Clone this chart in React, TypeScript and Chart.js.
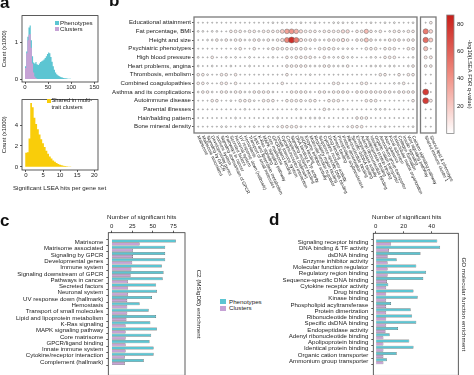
import React, { useEffect, useRef } from 'react';
import { Chart, registerables } from 'chart.js';

Chart.register(...registerables);

const FONT = "'Liberation Sans', Arial, Helvetica, sans-serif";
const TXT = '#222222';
const TICK = '#333333';
const CYAN = '#5cc5d2';
const PURPLE = '#c6a2d5';
const YELLOW = '#f9cd0a';
Chart.defaults.font.family = FONT;
Chart.defaults.color = TXT;

// ---------------- Panel a: histograms ----------------
const topBinStarts = [0, 2.5, 5, 7.5, 10, 12.5, 15, 17.5, 20, 22.5, 25, 27.5, 30, 32.5, 35, 37.5, 40, 42.5, 45, 47.5,
  50, 52.5, 55, 57.5, 60, 62.5, 65, 67.5, 70, 72.5, 75, 77.5, 80, 82.5, 85, 87.5, 90, 92.5, 95, 97.5];
const topBinWidth = 2.5;
const phenotypeHits = [0.35, 0.75, 1.15, 1.4, 1.45, 1.05, 0.62, 0.45, 0.42, 0.46, 0.4, 0.38, 0.42, 0.46, 0.48, 0.5, 0.53, 0.57, 0.62, 0.68,
  0.72, 0.7, 0.6, 0.47, 0.35, 0.25, 0.18, 0.13, 0.1, 0.08, 0.06, 0.05, 0.04, 0.03, 0.025, 0.02, 0.015, 0.01, 0.008, 0.005];
const clusterHits = [0.3, 0.7, 1.05, 1.2, 1.22, 0.85, 0.42, 0.18, 0.07, 0.03, 0.01];
const topXTicks = [0, 50, 100, 150];
const topYTicks = [0, 1];

const sharedBinStarts = [-0.25, 0.25, 0.75, 1.25, 1.75, 2.25, 2.75, 3.25, 3.75, 4.25, 4.75, 5.25, 5.75, 6.25, 6.75, 7.25,
  7.75, 8.25, 8.75, 9.25, 9.75, 10.25, 10.75, 11.25, 11.75, 12.25, 12.75, 13.25, 13.75, 14.25, 14.75];
const sharedBinWidth = 0.5;
const sharedHits = [1.35, 1.4, 2.7, 6.1, 5.7, 4.7, 4.1, 3.6, 3.1, 2.65, 2.25, 1.9, 1.55, 1.25, 1.0, 0.8,
  0.62, 0.48, 0.37, 0.28, 0.21, 0.15, 0.11, 0.08, 0.06, 0.04, 0.03, 0.02, 0.015, 0.01, 0.005];
const sharedXTicks = [0, 5, 10, 15, 20];
const sharedYTicks = [0, 2, 4];

// ---------------- Panel b: bubble matrix ----------------
const traitRows = ['Educational attainment', 'Fat percentage, BMI', 'Height and size', 'Psychiatric phenotypes',
  'High blood pressure', 'Heart problems, angina', 'Thrombosis, embolism', 'Combined coagulopathies',
  'Asthma and its complications', 'Autoimmune disease', 'Parental illnesses', 'Hair/balding pattern', 'Bone mineral density'];

const geneSets = ['Matrisome', 'Matrisome associated', 'Signaling by GPCR', 'Developmental genes', 'Immune system',
  'Signaling downstream of GPCR', 'Pathways in cancer', 'Secreted factors', 'Neuronal system', 'UV response down (hallmark)',
  'Hemostasis', 'Transport of small molecules', 'Lipid and lipoprotein metabolism', 'K-Ras signaling', 'MAPK signaling pathway',
  'Core matrisome', 'GPCR/ligand binding', 'Innate immune system', 'Cytokine/receptor interaction', 'Complement (hallmark)',
  'Signaling receptor binding', 'DNA binding & TF activity', 'dsDNA binding', 'Enzyme inhibitor activity',
  'Molecular function regulator', 'Regulatory region binding', 'Sequence-specific DNA binding', 'Cytokine receptor activity',
  'Drug binding', 'Kinase binding', 'Phospholipid acyltransferase', 'Protein dimerization', 'Ribonucleotide binding',
  'Specific dsDNA binding', 'Endopeptidase activity', 'Adenyl ribonucleotide binding', 'Apolipoprotein binding',
  'Identical protein binding', 'Organic cation transporter', 'Ammonium group transporter', 'Axon guidance', 'Focal adhesion',
  'Extracellular matrix organization', 'Collagen formation', 'Insulin signaling', 'Wnt signaling pathway', 'Calcium signaling pathway'];
const sideSets = ['Shared immune cluster 1', 'Shared lipid & phenotype'];

// -log10(LSEA FDR q-value), one array per trait row
const rowEducational = [0.5,0.5,0.5,0.5,0.5,0.5,0.5,0.5,0.5,0.5, 0.5,0.5,0.5,0.5,0.5,0.5,2,0.5,2,0.5, 2,0.5,2,0.5,0.5,2,0.5,0.5,0.5,2, 2,2,0.5,2,0.5,0.5,0.5,2,0.5,0.5, 2,0.5,2,0.5,0.5,0.5,2];
const rowFatBMI = [2,2,0.5,2,2,0.5,0.5,6,6,6, 2,6,6,2,6,6,6,6,20,35, 40,30,12,6,6,6,2,6,6,6, 6,12,12,0.5,6,6,25,6,2,6, 0.5,2,6,6,2,6,6];
const rowHeight = [0.5,0.5,2,2,6,2,6,2,6,6, 2,2,6,6,2,6,2,6,12,45, 80,50,12,6,6,6,2,2,6,6, 6,12,6,0.5,6,6,22,6,2,2, 2,6,6,6,2,6,6];
const rowPsychiatric = [0.5,0.5,0.5,0.5,0.5,0.5,0.5,0.5,2,6, 0.5,0.5,6,0.5,0.5,2,6,6,6,6, 6,6,6,6,2,0.5,6,6,6,6, 2,2,2,2,0.5,0.5,6,6,6,0.5, 6,6,6,0.5,0.5,6,6];
const rowBloodPressure = [2,0.5,0.5,6,0.5,0.5,2,0.5,2,0.5, 0.5,2,0.5,0.5,0.5,0.5,2,0.5,0.5,6, 2,6,6,6,6,2,0.5,6,2,2, 2,6,2,2,0.5,0.5,0.5,2,2,0.5, 6,6,6,0.5,0.5,0.5,2];
const rowHeart = [2,0.5,0.5,2,0.5,0.5,0.5,2,0.5,0.5, 0.5,2,0.5,0.5,0.5,0.5,0.5,0.5,0.5,6, 6,6,6,6,2,2,2,6,6,2, 2,2,6,0.5,0.5,0.5,0.5,2,2,2, 0.5,2,2,0.5,0.5,2,6];
const rowThrombosis = [6,6,2,0.5,0.5,6,6,0.5,6,0.5, 0.5,0.5,0.5,0.5,0.5,0.5,0.5,0.5,0.5,6, 0.5,0.5,0.5,0.5,2,0.5,0.5,0.5,0.5,0.5, 0.5,0.5,0.5,0.5,0.5,0.5,0.5,0.5,0.5,6, 6,0.5,0.5,6,0.5,6,6];
const rowCoagulopathies = [6,6,2,0.5,0.5,6,6,0.5,6,0.5, 0.5,0.5,0.5,0.5,0.5,0.5,0.5,0.5,6,0.5, 0.5,0.5,0.5,0.5,0.5,0.5,0.5,0.5,0.5,6, 6,0.5,0.5,0.5,0.5,6,6,0.5,0.5,0.5, 0.5,0.5,2,2,6,0.5,0.5];
const rowAsthma = [2,6,6,2,0.5,6,6,2,6,6, 2,2,6,6,6,6,2,0.5,0.5,0.5, 6,6,6,6,2,0.5,6,6,2,6, 6,6,6,0.5,6,6,6,6,6,6, 6,6,2,6,6,6,6];
const rowAutoimmune = [0.5,0.5,0.5,6,6,0.5,0.5,2,0.5,6, 6,6,2,0.5,6,6,6,0.5,0.5,6, 6,6,6,2,6,6,0.5,0.5,6,6, 6,0.5,0.5,0.5,0.5,0.5,6,6,6,0.5, 0.5,0.5,0.5,0.5,0.5,0.5,6];
const rowParental = [0.5,0.5,0.5,0.5,0.5,0.5,0.5,0.5,0.5,0.5, 2,0.5,0.5,0.5,0.5,0.5,0.5,0.5,0.5,0.5, 0.5,2,0.5,0.5,0.5,0.5,0.5,6,2,0.5, 0.5,2,0.5,0.5,0.5,0.5,0.5,0.5,2,2, 2,0.5,0.5,0.5,0.5,0.5,0.5];
const rowHair = [0.5,0.5,0.5,0.5,0.5,0.5,0.5,0.5,2,0.5, 0.5,0.5,0.5,0.5,0.5,0.5,0.5,2,0.5,0.5, 0.5,0.5,2,0.5,2,2,2,0.5,0.5,0.5, 0.5,0.5,0.5,0.5,6,6,6,0.5,0.5,0.5, 0.5,0.5,0.5,0.5,0.5,0.5,0.5];
const rowBoneDensity = [0.5,0.5,0.5,0.5,0.5,2,2,0.5,0.5,2, 0.5,0.5,2,0.5,0.5,2,0.5,2,6,6, 6,6,2,0.5,0.5,0.5,0.5,0.5,2,0.5, 0.5,0.5,2,6,6,6,0.5,0.5,0.5,0.5, 2,0.5,0.5,0.5,0.5,0.5,2];
const traitValues = [rowEducational, rowFatBMI, rowHeight, rowPsychiatric, rowBloodPressure, rowHeart, rowThrombosis,
  rowCoagulopathies, rowAsthma, rowAutoimmune, rowParental, rowHair, rowBoneDensity];
const sideCluster1 = [0.5, 50, 55, 25, 8, 6, 0.5, 0.5, 75, 75, 0.5, 0.5, 0.5];
const sideCluster2 = [6, 15, 20, 0.5, 8, 6, 0.5, 0.5, 0.5, 8, 0.5, 0.5, 0.5];
const colorbarMax = 86.6;
const colorbarTicks = [20, 40, 60, 80];

// ---------------- Panel c ----------------
const cTerms = ['Matrisome', 'Matrisome associated', 'Signaling by GPCR', 'Developmental genes', 'Immune system',
  'Signaling downstream of GPCR', 'Pathways in cancer', 'Secreted factors', 'Neuronal system', 'UV response down (hallmark)',
  'Hemostasis', 'Transport of small molecules', 'Lipid and lipoprotein metabolism', 'K-Ras signaling', 'MAPK signaling pathway',
  'Core matrisome', 'GPCR/ligand binding', 'Innate immune system', 'Cytokine/receptor interaction', 'Complement (hallmark)'];
const cPhenotypes = [78, 65, 65, 65, 61, 63, 62, 54, 55, 49, 34, 45, 54, 47, 55, 48, 46, 51, 51, 39];
const cClusters = [34, 26, 26, 25, 24, 23, 20, 20, 20, 19, 19, 19, 18, 17, 17, 17, 17, 17, 16, 16];
const cTicks = [0, 25, 50, 75];

// ---------------- Panel d ----------------
const dTerms = ['Signaling receptor binding', 'DNA binding & TF activity', 'dsDNA binding', 'Enzyme inhibitor activity',
  'Molecular function regulator', 'Regulatory region binding', 'Sequence-specific DNA binding', 'Cytokine receptor activity',
  'Drug binding', 'Kinase binding', 'Phospholipid acyltransferase', 'Protein dimerization', 'Ribonucleotide binding',
  'Specific dsDNA binding', 'Endopeptidase activity', 'Adenyl ribonucleotide binding', 'Apolipoprotein binding',
  'Identical protein binding', 'Organic cation transporter', 'Ammonium group transporter'];
const dPhenotypes = [44, 46, 32, 15, 29, 36, 34, 9, 27, 30, 11, 25, 26, 29, 16, 10, 24, 27, 15, 8];
const dClusters = [11, 9.5, 8.5, 8.5, 8.5, 8.5, 8, 7.5, 7.5, 7.5, 7.5, 7.5, 7.5, 7.5, 7, 5.5, 5.5, 5.5, 5.5, 5.5];
const dTicks = [0, 20, 40];

// ---------------- helpers ----------------
const fnt = (size: number) => ({ family: FONT, size });
const gridTicks = { drawOnChartArea: false, drawTicks: true, tickLength: 2, color: TICK, lineWidth: 0.8 };
const noBorder = { display: false };
const fixTicks = (vals: number[]) => (scale: any) => { scale.ticks = vals.map((value) => ({ value })); };
const base = () => ({
  responsive: false, maintainAspectRatio: false, animation: false, devicePixelRatio: 1, events: [],
  plugins: { legend: { display: false }, tooltip: { enabled: false } },
});
const boxPlugin = (color: string, lw: number) => ({
  id: 'box',
  afterDatasetsDraw(chart: any) {
    const { ctx, chartArea: a } = chart;
    ctx.save();
    ctx.strokeStyle = color;
    ctx.lineWidth = lw;
    ctx.strokeRect(a.left, a.top, a.right - a.left, a.bottom - a.top);
    ctx.restore();
  },
});
const columnLabels = (labels: string[]) => ({
  id: 'colLabels',
  afterDraw(chart: any) {
    const { ctx, chartArea, scales } = chart;
    ctx.save();
    ctx.font = `4.5px ${FONT}`;
    ctx.fillStyle = '#222';
    ctx.textAlign = 'left';
    ctx.textBaseline = 'middle';
    labels.forEach((t, i) => {
      const x = scales.x.getPixelForValue(i);
      ctx.save();
      ctx.translate(x, chartArea.bottom + 3);
      ctx.rotate((65 * Math.PI) / 180);
      ctx.fillText(t, 0, 0);
      ctx.restore();
    });
    ctx.restore();
  },
});
function histPoints(starts: number[], width: number, counts: number[]) {
  const pts = counts.map((c, i) => ({ x: starts[i], y: c }));
  pts.push({ x: starts[counts.length - 1] + width, y: 0 });
  return pts;
}
const stops = [[255, 255, 255], [240, 140, 128], [200, 30, 25]];
function colorFor(v: number) {
  const t = Math.min(1, Math.max(0, v / colorbarMax));
  const seg = t < 0.5 ? 0 : 1;
  const lt = t < 0.5 ? t / 0.5 : (t - 0.5) / 0.5;
  const a = stops[seg], b = stops[seg + 1];
  const c = a.map((x, k) => Math.round(x + (b[k] - x) * lt));
  return `rgb(${c[0]},${c[1]},${c[2]})`;
}
const sizeFor = (v: number) => 0.35 + 0.5 * Math.log(1 + v) + 0.006 * v;

// ---------------- configs ----------------
const histTopConfig = () => ({
  type: 'line',
  data: {
    datasets: [
      { label: 'Clusters', data: histPoints(topBinStarts, topBinWidth, clusterHits), order: 0, stepped: 'before', fill: 'origin',
        backgroundColor: PURPLE, borderColor: 'rgba(0,0,0,0)', borderWidth: 0, pointRadius: 0 },
      { label: 'Phenotypes', data: histPoints(topBinStarts, topBinWidth, phenotypeHits), order: 1, stepped: 'before', fill: 'origin',
        backgroundColor: CYAN, borderColor: 'rgba(0,0,0,0)', borderWidth: 0, pointRadius: 0 },
    ],
  },
  options: {
    ...base(),
    layout: { padding: { top: 3, right: 4, left: 0, bottom: 0 } },
    scales: {
      x: { type: 'linear', min: -6.5, max: 158, afterBuildTicks: fixTicks(topXTicks), afterFit: (s: any) => { s.height = 11; },
        grid: gridTicks, border: noBorder, ticks: { font: fnt(6), color: TXT, padding: 0, maxRotation: 0, autoSkip: false } },
      y: { type: 'linear', min: -0.08, max: 1.72, afterBuildTicks: fixTicks(topYTicks), afterFit: (s: any) => { s.width = 22; },
        grid: gridTicks, border: noBorder, ticks: { font: fnt(6), color: TXT, padding: 2 },
        title: { display: true, text: 'Count (x1000)', font: fnt(5.8), color: TXT, padding: { top: 1, bottom: 0 } } },
    },
  },
  plugins: [boxPlugin('#333', 0.8)],
});

const histBottomConfig = () => ({
  type: 'line',
  data: {
    datasets: [
      { label: 'Shared in multi-trait clusters', data: histPoints(sharedBinStarts, sharedBinWidth, sharedHits), stepped: 'before', fill: 'origin',
        backgroundColor: YELLOW, borderColor: 'rgba(0,0,0,0)', borderWidth: 0, pointRadius: 0 },
    ],
  },
  options: {
    ...base(),
    layout: { padding: { top: 3, right: 4, left: 0, bottom: 0 } },
    scales: {
      x: { type: 'linear', min: -1.17, max: 21.1, afterBuildTicks: fixTicks(sharedXTicks), afterFit: (s: any) => { s.height = 24; },
        grid: gridTicks, border: noBorder, ticks: { font: fnt(6), color: TXT, padding: 0, maxRotation: 0, autoSkip: false } },
      y: { type: 'linear', min: -0.3, max: 6.43, afterBuildTicks: fixTicks(sharedYTicks), afterFit: (s: any) => { s.width = 22; },
        grid: gridTicks, border: noBorder, ticks: { font: fnt(6), color: TXT, padding: 2 },
        title: { display: true, text: 'Count (x1000)', font: fnt(5.8), color: TXT, padding: { top: 1, bottom: 0 } } },
    },
  },
  plugins: [boxPlugin('#333', 0.8)],
});

const bubbleMainConfig = () => {
  const pts: any[] = [];
  traitValues.forEach((row, ri) => row.forEach((v, ci) => pts.push({ x: ci, y: ri, r: sizeFor(v), v })));
  return {
    type: 'bubble',
    data: { datasets: [{ data: pts, backgroundColor: (c: any) => colorFor(c.raw ? c.raw.v : 0), borderColor: '#6a6a6a', borderWidth: 0.5 }] },
    options: {
      ...base(),
      layout: { padding: { top: 17, bottom: 77, left: 0, right: 53 } },
      scales: {
        x: { type: 'linear', display: false, min: -0.9, max: 46.85 },
        y: { type: 'linear', reverse: true, min: -0.66, max: 12.73, afterBuildTicks: fixTicks(traitRows.map((_, i) => i)),
          afterFit: (s: any) => { s.width = 84; }, grid: gridTicks, border: noBorder,
          ticks: { font: fnt(6.1), color: TXT, padding: 1, autoSkip: false, callback: (v: any) => traitRows[v] } },
      },
    },
    plugins: [boxPlugin('#7a7a7a', 1.3), columnLabels(geneSets)],
  };
};

const bubbleSideConfig = () => {
  const pts: any[] = [];
  [sideCluster1, sideCluster2].forEach((col, ci) => col.forEach((v, ri) => pts.push({ x: ci, y: ri, r: sizeFor(v), v })));
  return {
    type: 'bubble',
    data: { datasets: [{ data: pts, backgroundColor: (c: any) => colorFor(c.raw ? c.raw.v : 0), borderColor: '#6a6a6a', borderWidth: 0.5 }] },
    options: {
      ...base(),
      layout: { padding: { top: 17, bottom: 77, left: 2, right: 38 } },
      scales: {
        x: { type: 'linear', display: false, min: -1, max: 2 },
        y: { type: 'linear', display: false, reverse: true, min: -0.66, max: 12.73 },
      },
    },
    plugins: [boxPlugin('#7a7a7a', 1.3), columnLabels(sideSets)],
  };
};

const colorbarConfig = () => ({
  type: 'bar',
  data: {
    labels: [''],
    datasets: [{
      data: [colorbarMax], barPercentage: 1, categoryPercentage: 1, borderWidth: 0,
      backgroundColor: (c: any) => {
        const a = c.chart.chartArea;
        if (!a) return '#ffffff';
        const g = c.chart.ctx.createLinearGradient(0, a.bottom, 0, a.top);
        g.addColorStop(0, 'rgb(255,255,255)');
        g.addColorStop(0.5, 'rgb(240,140,128)');
        g.addColorStop(1, 'rgb(200,30,25)');
        return g;
      },
    }],
  },
  options: {
    ...base(),
    layout: { padding: { top: 15, bottom: 6.3, left: 6.7, right: 0 } },
    scales: {
      x: { display: false },
      y: { position: 'right', min: 0, max: colorbarMax, afterBuildTicks: fixTicks(colorbarTicks), afterFit: (s: any) => { s.width = 20; },
        grid: { display: false, drawTicks: false }, border: noBorder, ticks: { font: fnt(6), color: TXT, padding: 3 },
        title: { display: true, text: '-log10(LSEA FDR q-value)', font: fnt(5.8), color: TXT, padding: { top: 1, bottom: 0 } } },
    },
  },
  plugins: [boxPlugin('#888', 0.8)],
});

function barConfig(terms: string[], pheno: number[], clus: number[], ticks: number[], xmin: number, xmax: number,
  ymin: number, ymax: number, leftW: number, rightW: number, topH: number, rightTitle: string) {
  return {
    type: 'bar',
    data: {
      datasets: [
        { label: 'Phenotypes', data: pheno.map((v, i) => ({ x: v, y: i })), backgroundColor: CYAN, borderColor: '#3e3e3e', borderWidth: 0.5,
          barPercentage: 1, categoryPercentage: 0.96 },
        { label: 'Clusters', data: clus.map((v, i) => ({ x: v, y: i })), backgroundColor: PURPLE, borderColor: '#3e3e3e', borderWidth: 0.5,
          barPercentage: 1, categoryPercentage: 0.96 },
      ],
    },
    options: {
      ...base(),
      indexAxis: 'y',
      layout: { padding: 0 },
      scales: {
        x: { type: 'linear', position: 'top', min: xmin, max: xmax, afterBuildTicks: fixTicks(ticks), afterFit: (s: any) => { s.height = topH; },
          grid: gridTicks, border: noBorder, ticks: { font: fnt(6), color: TXT, padding: 1, maxRotation: 0, autoSkip: false } },
        y: { type: 'linear', reverse: true, min: ymin, max: ymax, afterBuildTicks: fixTicks(terms.map((_, i) => i)),
          afterFit: (s: any) => { s.width = leftW; }, grid: gridTicks, border: noBorder,
          ticks: { font: fnt(6.1), color: TXT, padding: 3, autoSkip: false, callback: (v: any) => terms[v] } },
        y2: { type: 'linear', position: 'right', grid: { display: false, drawTicks: false }, border: noBorder, ticks: { display: false },
          afterFit: (s: any) => { s.width = rightW; },
          title: { display: true, text: rightTitle, font: fnt(6.2), color: TXT, padding: { top: 1, bottom: 0 } } },
      },
    },
    plugins: [boxPlugin('#333', 0.8)],
  };
}

// ---------------- components ----------------
function ChartCanvas({ left, top, width, height, make }: { left: number; top: number; width: number; height: number; make: () => any }) {
  const ref = useRef<HTMLCanvasElement>(null);
  useEffect(() => {
    const chart = new Chart(ref.current as HTMLCanvasElement, make());
    return () => chart.destroy();
  }, []);
  return <canvas ref={ref} width={width} height={height} style={{ position: 'absolute', left, top, width, height }} />;
}

function Txt({ x, cy, size, children, bold, center }: { x: number; cy: number; size: number; children: any; bold?: boolean; center?: boolean }) {
  const lh = size * 1.2;
  return (
    <div style={{ position: 'absolute', left: x, top: cy - lh / 2, height: lh, lineHeight: `${lh}px`, fontSize: size,
      fontWeight: bold ? 'bold' : 'normal', whiteSpace: 'nowrap', fontFamily: FONT, color: TXT,
      transform: center ? 'translateX(-50%)' : undefined }}>{children}</div>
  );
}
function Sq({ x, y, w, h, color }: { x: number; y: number; w: number; h: number; color: string }) {
  return <div style={{ position: 'absolute', left: x, top: y, width: w, height: h, background: color }} />;
}
function Letter({ x, baseline, ch }: { x: number; baseline: number; ch: string }) {
  return (
    <div style={{ position: 'absolute', left: x, top: baseline - 16.1, height: 20.4, lineHeight: '20.4px', fontSize: 17,
      fontWeight: 'bold', fontFamily: FONT, color: '#111' }}>{ch}</div>
  );
}

export default function App() {
  return (
    <div style={{ position: 'fixed', left: 0, top: 0, width: 474, height: 375, overflow: 'hidden', background: '#fff' }}>
      <ChartCanvas left={0} top={10} width={102} height={83} make={histTopConfig} />
      <ChartCanvas left={0} top={94} width={102} height={100} make={histBottomConfig} />
      <ChartCanvas left={110} top={0} width={360} height={210} make={bubbleMainConfig} />
      <ChartCanvas left={416} top={0} width={58} height={210} make={bubbleSideConfig} />
      <ChartCanvas left={440} top={0} width={34} height={140} make={colorbarConfig} />
      <ChartCanvas left={0} top={212} width={203} height={170}
        make={() => barConfig(cTerms, cPhenotypes, cClusters, cTicks, -4, 89, -0.98, 20.55, 108.3, 18, 20.7, 'C2 (MSigDB) enrichment')} />
      <ChartCanvas left={262} top={212} width={206} height={170}
        make={() => barConfig(dTerms, dPhenotypes, dClusters, dTicks, -1.7, 59, -0.9, 20.7, 111.3, 9.7, 21.3, 'GO molecular function enrichment')} />

      <Letter x={0} baseline={9.5} ch="a" />
      <Letter x={109} baseline={7.5} ch="b" />
      <Letter x={0} baseline={227} ch="c" />
      <Letter x={269} baseline={226} ch="d" />

      <Sq x={55} y={21} w={3.5} h={3.5} color={CYAN} />
      <Txt x={60} cy={22.8} size={6.2}>Phenotypes</Txt>
      <Sq x={55} y={27} w={3.5} h={3.5} color={PURPLE} />
      <Txt x={60} cy={29} size={6.2}>Clusters</Txt>

      <Sq x={47} y={99} w={3.5} h={3.5} color={YELLOW} />
      <Txt x={51.5} cy={100.7} size={5.8}>Shared in multi-</Txt>
      <Txt x={51.5} cy={107} size={5.8}>trait clusters</Txt>
      <Txt x={59.5} cy={188} size={6.2} center>Significant LSEA hits per gene set</Txt>

      <Txt x={107} cy={217} size={6.2}>Number of significant hits</Txt>
      <Txt x={372} cy={217} size={6.2}>Number of significant hits</Txt>

      <Sq x={220} y={299} w={6} h={5} color={CYAN} />
      <Txt x={229} cy={301.7} size={6.2}>Phenotypes</Txt>
      <Sq x={220} y={305.5} w={6} h={5} color={PURPLE} />
      <Txt x={229} cy={308} size={6.2}>Clusters</Txt>
    </div>
  );
}
